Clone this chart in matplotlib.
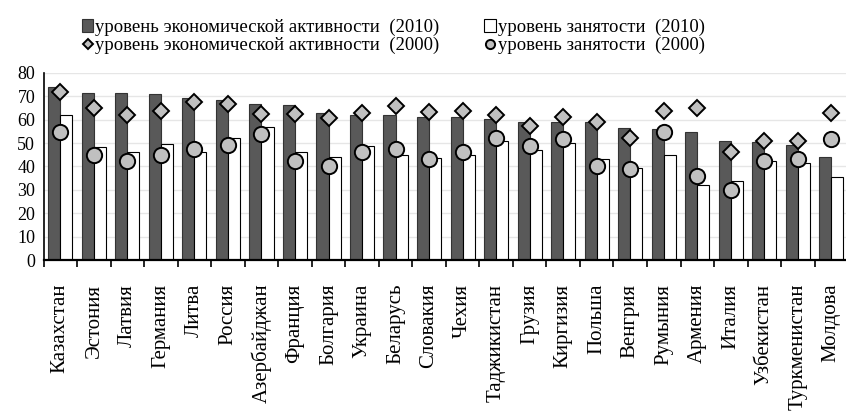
import numpy as np
import matplotlib
matplotlib.use('Agg')
import matplotlib.pyplot as plt

plt.rcParams['font.family'] = ['Liberation Serif', 'DejaVu Serif']

countries = ['Казахстан', 'Эстония', 'Латвия', 'Германия', 'Литва', 'Россия',
             'Азербайджан', 'Франция', 'Болгария', 'Украина', 'Беларусь',
             'Словакия', 'Чехия', 'Таджикистан', 'Грузия', 'Киргизия', 'Польша',
             'Венгрия', 'Румыния', 'Армения', 'Италия', 'Узбекистан',
             'Туркменистан', 'Молдова']

# economic activity 2010 / employment 2010 (bars)
activity_2010 = [74.0, 71.2, 71.2, 70.8, 69.1, 68.3, 66.6, 66.2, 62.7, 61.9, 61.9,
                 61.2, 60.9, 60.2, 59.1, 58.8, 58.8, 56.5, 56.0, 54.8, 51.0, 50.4,
                 49.0, 44.1]
employment_2010 = [61.9, 48.4, 46.0, 49.4, 46.3, 52.3, 56.9, 46.3, 43.9, 48.8, 45.1,
                   43.4, 45.1, 50.8, 47.0, 49.8, 43.3, 39.2, 44.9, 32.0, 33.9, 42.4,
                   41.3, 35.6]
# economic activity 2000 / employment 2000 (markers)
activity_2000 = [71.9, 64.8, 61.9, 63.6, 67.6, 66.6, 62.2, 62.2, 60.8, 62.7, 65.9,
                 63.1, 63.6, 61.9, 57.4, 61.2, 58.8, 52.0, 63.8, 65.1, 46.3, 50.8,
                 50.9, 62.9]
employment_2000 = [54.8, 45.1, 42.3, 45.1, 47.3, 49.1, 53.8, 42.4, 40.2, 46.0, 47.4,
                   43.0, 46.1, 52.0, 48.8, 51.6, 40.2, 38.9, 54.8, 35.9, 29.9, 42.3,
                   43.0, 51.7]

x = np.arange(len(countries))
w = 0.36

fig = plt.figure(figsize=(8.46, 4.11), dpi=100)
ax = fig.add_axes([0.0515, 0.367, 0.951, 0.456])

b1 = ax.bar(x - w / 2, activity_2010, w, color='#595959', edgecolor='#333333',
            linewidth=0.8, zorder=2, label='уровень экономической активности  (2010)')
b2 = ax.bar(x + w / 2, employment_2010, w, color='white', edgecolor='black',
            linewidth=0.8, zorder=2, label='уровень занятости  (2010)')
m1, = ax.plot(x, activity_2000, 'D', ms=8.5, mfc='#c0c0c0', mec='black', mew=1.4,
              zorder=3, label='уровень экономической активности  (2000)')
m2, = ax.plot(x, employment_2000, 'o', ms=11, mfc='#c0c0c0', mec='black', mew=1.4,
              zorder=4, label='уровень занятости  (2000)')

ax.set_xlim(-0.5, len(countries) - 0.5)
ax.set_ylim(0, 80)
ax.set_yticks(range(0, 81, 10))
ax.yaxis.grid(True, color='#e6e6e6', linewidth=1, zorder=0)
ax.set_axisbelow(True)
ax.tick_params(axis='y', labelsize=13, length=0, pad=6)

ax.set_xticks(x)
ax.set_xticklabels(countries, rotation=90, fontsize=15)
ax.set_xticks(np.arange(-0.5, len(countries)), minor=True)
ax.tick_params(axis='x', which='major', length=0, pad=17)
ax.tick_params(axis='x', which='minor', length=5, width=1.2, direction='out')

for s in ['top', 'right']:
    ax.spines[s].set_visible(False)
ax.spines['left'].set_linewidth(1.2)
ax.spines['bottom'].set_linewidth(1.6)

fig.legend(handles=[b1, m1, b2, m2], ncol=2, loc='upper left',
           bbox_to_anchor=(0.077, 0.995), frameon=False, fontsize=13.5,
           handlelength=0.6, handletextpad=0.1, columnspacing=2.4,
           labelspacing=0.05, markerscale=0.6)

fig.savefig('out.png', dpi=100)
